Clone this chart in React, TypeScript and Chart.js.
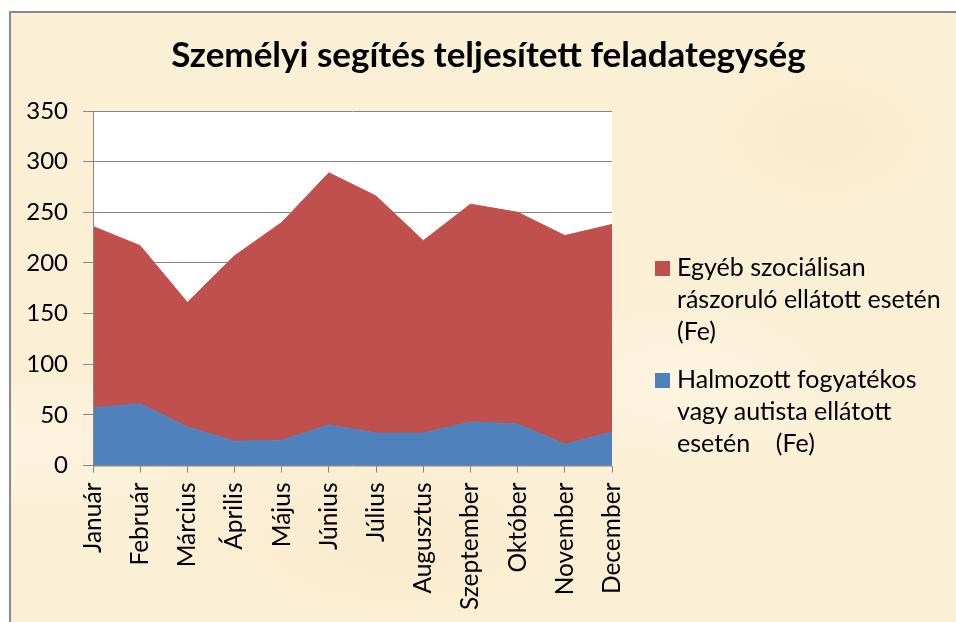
import { useEffect, useRef } from "react";
import { Chart, registerables } from "chart.js";

Chart.register(...registerables);

const months = [
  "Január", "Február", "Március", "Április", "Május", "Június",
  "Július", "Augusztus", "Szeptember", "Október", "November", "December",
];
const halmozott = [57, 61, 38, 24, 25, 40, 32, 32, 43, 41, 21, 33];
const egyeb = [179, 156, 123, 183, 215, 249, 234, 190, 215, 209, 206, 205];
const yMin = 0;
const yMax = 350;
const yStep = 50;

const titleText = "Személyi segítés teljesített feladategység";
const egyebLabel = ["Egyéb szociálisan", "rászoruló ellátott esetén", "(Fe)"];
const halmozottLabel = ["Halmozott fogyatékos", "vagy autista ellátott", "esetén\u00a0\u00a0\u00a0\u00a0(Fe)"];

const RED = "#C0504D";
const BLUE = "#4F81BD";
const GRAY = "#868686";
const FONT = "Lato, 'Noto Sans', sans-serif";

export default function App() {
  const ref = useRef<HTMLCanvasElement | null>(null);

  useEffect(() => {
    if (!ref.current) return;
    const plotBg = {
      id: "plotBg",
      beforeDraw(chart: any) {
        const { ctx, chartArea } = chart;
        ctx.save();
        ctx.fillStyle = "#ffffff";
        ctx.fillRect(chartArea.left, chartArea.top, chartArea.right - chartArea.left, chartArea.bottom - chartArea.top);
        ctx.restore();
      },
    };
    const axisLines = {
      id: "axisLines",
      afterDatasetsDraw(chart: any) {
        const { ctx, chartArea } = chart;
        ctx.save();
        ctx.strokeStyle = GRAY;
        ctx.lineWidth = 1;
        ctx.beginPath();
        ctx.moveTo(chartArea.left + 0.5, chartArea.top);
        ctx.lineTo(chartArea.left + 0.5, chartArea.bottom + 0.5);
        ctx.lineTo(chartArea.right, chartArea.bottom + 0.5);
        ctx.stroke();
        ctx.restore();
      },
    };
    const chart = new Chart(ref.current, {
      type: "line",
      data: {
        labels: months,
        datasets: [
          {
            label: "Halmozott fogyatékos vagy autista ellátott esetén (Fe)",
            data: halmozott,
            backgroundColor: BLUE,
            borderColor: BLUE,
            borderWidth: 1,
            fill: "origin",
            pointRadius: 0,
            tension: 0,
          },
          {
            label: "Egyéb szociálisan rászoruló ellátott esetén (Fe)",
            data: egyeb,
            backgroundColor: RED,
            borderColor: RED,
            borderWidth: 1,
            fill: "-1",
            pointRadius: 0,
            tension: 0,
          },
        ],
      },
      options: {
        animation: false,
        responsive: false,
        maintainAspectRatio: false,
        layout: { padding: { left: 0, top: 111, right: 344, bottom: 0 } },
        plugins: {
          legend: { display: false },
          title: { display: false },
          tooltip: { enabled: false },
        },
        scales: {
          x: {
            offset: false,
            grid: {
              drawOnChartArea: false,
              drawTicks: true,
              tickLength: 7,
              color: GRAY,
            },
            border: { display: false },
            ticks: {
              color: "#000",
              font: { family: FONT, size: 24.5 },
              minRotation: 90,
              maxRotation: 90,
              padding: 10,
              autoSkip: false,
            },
            afterFit(scale: any) {
              scale.height = 156.5;
            },
          },
          y: {
            stacked: true,
            min: yMin,
            max: yMax,
            grid: {
              color: GRAY,
              lineWidth: 1,
              drawTicks: true,
              tickLength: 10,
            },
            border: { display: false },
            ticks: {
              stepSize: yStep,
              color: "#000",
              font: { family: FONT, size: 24 },
              padding: 15,
            },
            afterFit(scale: any) {
              scale.width = 93;
            },
          },
        },
      },
      plugins: [plotBg, axisLines],
    });
    return () => chart.destroy();
  }, []);

  const legendLine = { whiteSpace: "nowrap" as const };
  return (
    <div style={{ position: "fixed", left: 0, top: 0, width: 956, height: 622, background: "#ffffff", overflow: "hidden", fontFamily: FONT }}>
      <div
        style={{
          position: "absolute",
          left: 9,
          top: 11,
          width: 960,
          height: 620,
          border: "2px solid #8a8a8a",
          boxSizing: "border-box",
          backgroundColor: "#FBEFD6",
          backgroundImage:
            "radial-gradient(ellipse 120px 60px at 20% 30%, rgba(245,225,185,0.45), transparent)," +
            "radial-gradient(ellipse 160px 80px at 70% 60%, rgba(255,248,232,0.7), transparent)," +
            "radial-gradient(ellipse 140px 90px at 85% 20%, rgba(246,228,190,0.35), transparent)," +
            "radial-gradient(ellipse 200px 100px at 40% 85%, rgba(247,230,195,0.45), transparent)," +
            "radial-gradient(ellipse 150px 70px at 5% 70%, rgba(255,247,230,0.6), transparent)",
        }}
      />
      <canvas ref={ref} width={956} height={622} style={{ position: "absolute", left: 0, top: 0, width: 956, height: 622 }} />
      <div
        style={{
          position: "absolute",
          left: 0,
          top: 31.5,
          width: 977,
          textAlign: "center",
          fontSize: 35,
          fontWeight: 700,
          lineHeight: "42px",
          color: "#000",
          whiteSpace: "nowrap",
        }}
      >
        {titleText}
      </div>
      <div style={{ position: "absolute", left: 655, top: 250, fontSize: 25, lineHeight: "32px", color: "#000" }}>
        <div style={{ position: "absolute", left: 0, top: 10.5, width: 15, height: 15, background: RED }} />
        <div style={{ marginLeft: 22 }}>
          {egyebLabel.map((t, i) => (
            <div key={i} style={legendLine}>{t}</div>
          ))}
        </div>
      </div>
      <div style={{ position: "absolute", left: 655, top: 362, fontSize: 25, lineHeight: "32px", color: "#000" }}>
        <div style={{ position: "absolute", left: 0, top: 10.5, width: 15, height: 15, background: BLUE }} />
        <div style={{ marginLeft: 22 }}>
          {halmozottLabel.map((t, i) => (
            <div key={i} style={legendLine}>{t}</div>
          ))}
        </div>
      </div>
    </div>
  );
}
